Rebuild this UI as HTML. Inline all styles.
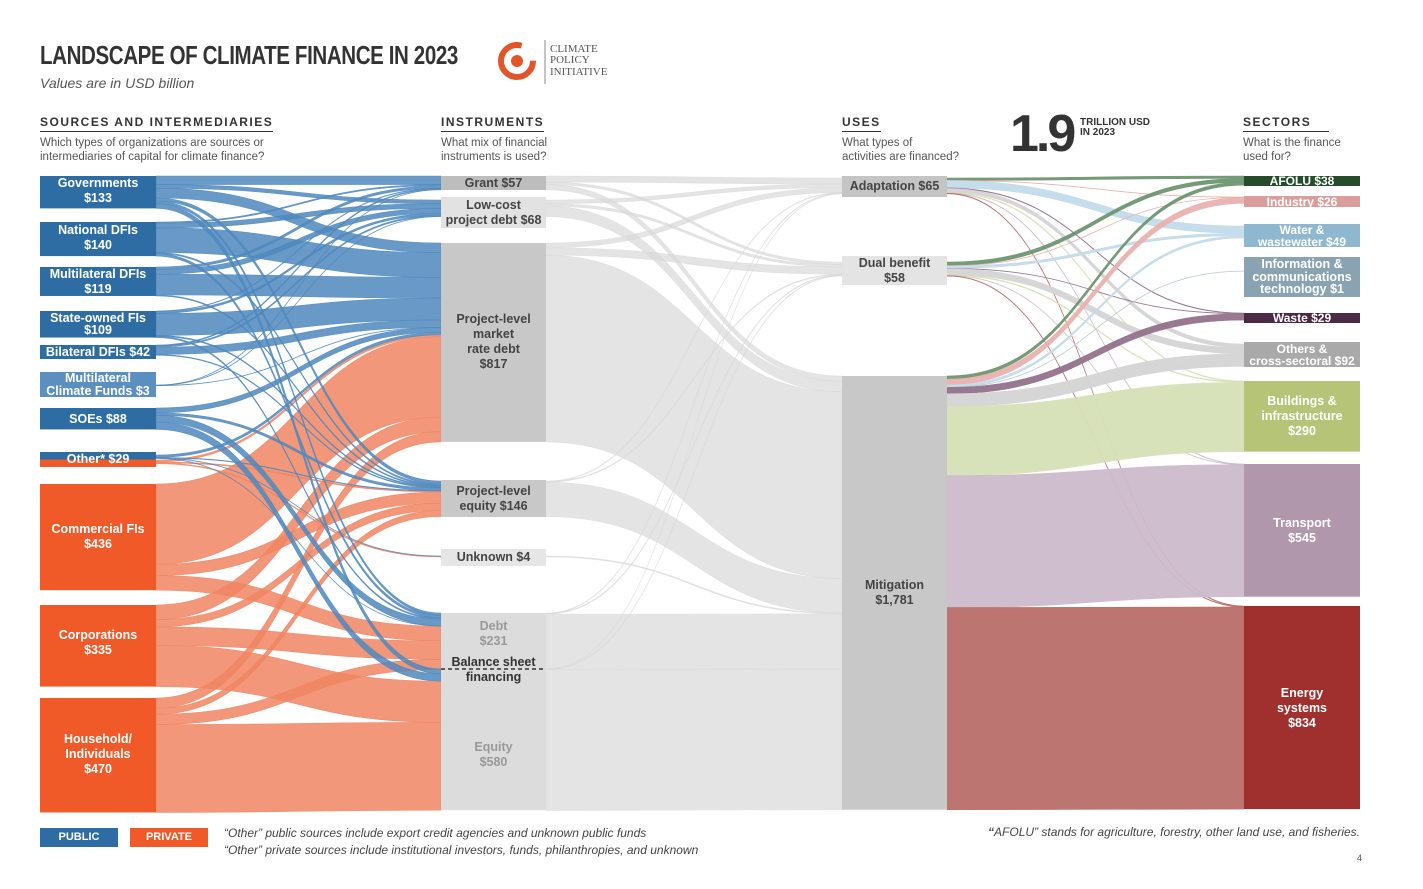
<!DOCTYPE html>
<html><head><meta charset="utf-8">
<style>
body{margin:0;background:#fff;font-family:"Liberation Sans",sans-serif;}
#wrap{position:relative;width:1423px;height:889px;overflow:hidden;}
.t{position:absolute;}
.hd{position:absolute;font-weight:bold;font-size:12px;letter-spacing:1.5px;color:#333;border-bottom:1.5px solid #333;padding-bottom:2px;}
.ds{position:absolute;font-size:11.5px;color:#555;line-height:14px;}
.lb{position:absolute;display:flex;align-items:center;justify-content:center;text-align:center;font-weight:bold;font-size:12.5px;line-height:15px;}
</style></head><body>
<div id="wrap">
<div class="t" style="left:40px;top:40px;font-size:26px;font-weight:bold;color:#333;letter-spacing:-0.5px;transform:scaleX(0.79);transform-origin:left;white-space:nowrap;">LANDSCAPE OF CLIMATE FINANCE IN 2023</div>
<div class="t" style="left:40px;top:75px;font-size:14px;font-style:italic;color:#555;">Values are in USD billion</div>
<svg class="t" style="left:495px;top:38px" width="125" height="50">
<circle cx="22" cy="23" r="16" fill="none" stroke="#e2542a" stroke-width="6" stroke-dasharray="80 20"/>
<circle cx="22" cy="23" r="6" fill="#e2542a"/>
<line x1="50" y1="2" x2="50" y2="46" stroke="#888"/>
<text x="55" y="14" font-family="Liberation Serif" font-size="11" fill="#555">CLIMATE</text>
<text x="55" y="25" font-family="Liberation Serif" font-size="11" fill="#555">POLICY</text>
<text x="55" y="37" font-family="Liberation Serif" font-size="11" fill="#555">INITIATIVE</text>
</svg>
<div class="hd" style="left:40px;top:115px;">SOURCES AND INTERMEDIARIES</div>
<div class="ds" style="left:40px;top:136px;">Which types of organizations are sources or<br>intermediaries of capital for climate finance?</div>
<div class="hd" style="left:441px;top:115px;">INSTRUMENTS</div>
<div class="ds" style="left:441px;top:136px;">What mix of financial<br>instruments is used?</div>
<div class="hd" style="left:842px;top:115px;">USES</div>
<div class="ds" style="left:842px;top:136px;">What types of<br>activities are financed?</div>
<div class="t" style="left:1010px;top:104px;font-size:52px;font-weight:bold;color:#333;letter-spacing:-3px;">1.9</div>
<div class="t" style="left:1080px;top:118px;font-size:10px;font-weight:bold;color:#333;line-height:10px;">TRILLION USD<br>IN 2023</div>
<div class="hd" style="left:1243px;top:115px;width:86px;">SECTORS</div>
<div class="ds" style="left:1243px;top:136px;">What is the finance<br>used for?</div>
<svg id="sk" class="t" style="left:0;top:0" width="1423" height="889"></svg>
<div id="labels"></div>
<div class="lb" style="left:40px;top:828px;width:78px;height:19px;background:#2e6da4;color:#fff;font-size:11px;">PUBLIC</div>
<div class="lb" style="left:130px;top:828px;width:78px;height:19px;background:#f05a28;color:#fff;font-size:11px;">PRIVATE</div>
<div class="t" style="left:224px;top:825px;font-size:12px;font-style:italic;color:#444;line-height:17px;">“Other” public sources include export credit agencies and unknown public funds<br>“Other” private sources include institutional investors, funds, philanthropies, and unknown</div>
<div class="t" style="right:63px;top:825px;font-size:12px;font-style:italic;color:#444;"><b>“</b>AFOLU” stands for agriculture, forestry, other land use, and fisheries.</div>
<div class="t" style="left:1357px;top:853px;font-size:9px;color:#555;">4</div>
</div>
<script>
const sources=["Governments","National DFIs","Multilateral DFIs","State-owned FIs","Bilateral DFIs","Multilateral Climate Funds","SOEs","Other public","Other private","Commercial FIs","Corporations","Household/Individuals"];
const sourcePublic=[1,1,1,1,1,1,1,1,0,0,0,0];
const instruments=["Grant","Low-cost project debt","Project-level market rate debt","Project-level equity","Unknown","Debt","Equity"];
const uses=["Adaptation","Dual benefit","Mitigation"];
const sectors=["AFOLU","Industry","Water & wastewater","ICT","Waste","Others & cross-sectoral","Buildings & infrastructure","Transport","Energy systems"];
// flows source -> instrument
const flowGov=[35,15,40,13,0,10,20];
const flowNatDFI=[5,19,101,5,0,10,0];
const flowMDFI=[10,20,85,4,0,0,0];
const flowSOFI=[2,8,90,4,0,5,0];
const flowBDFI=[4,5,30,3,0,0,0];
const flowMCF=[1,1,1,0,0,0,0];
const flowSOE=[0,0,20,10,0,28,30];
const flowOtherPub=[0,0,10,2,1,1,0];
const flowOtherPriv=[0,0,8,4,3,0,0];
const flowComm=[0,0,330,46,0,60,0];
const flowCorp=[0,0,60,30,0,76,169];
const flowHH=[0,0,42,25,0,42,361];
const srcInst=[flowGov,flowNatDFI,flowMDFI,flowSOFI,flowBDFI,flowMCF,flowSOE,flowOtherPub,flowOtherPriv,flowComm,flowCorp,flowHH];
// flows instrument -> use
const instUse=[[25,10,22],[15,10,43],[20,30,767],[2,3,141],[0,0,4],[2,3,226],[1,2,578]];
// flows use -> sector
const useAdapt=[10,1,30,0,2,15,3,2,2];
const useDual=[15,1,10,0,1,25,3,1,2];
const useMit=[13,24,9,1,26,52,284,542,830];
const useSec=[useAdapt,useDual,useMit];

// layout (not data)
const K=0.2435;
const srcTop=[176,222,267,311,345,385,408,455,460,484,605,698];
const instTop=[176,200,243,481,556,613,669];
const useTop=[178,262,376];
const secTop=[176,197,226,271,313,344,381,464,606];
const secColor=["#264d2a","#d99e9c","#8fb7cf","#8aa3b3","#4b2a45","#a9a9a9","#b5c477","#b097ab","#a0302d"];
const secLink=["#6f9672","#e9b1ae","#c3dbea","#b9c8d2","#93728c","#d4d4d4","#d6e0b6","#cbbacb","#b86e68"];
const X={s0:40,s1:156,i0:441,i1:546,u0:842,u1:947,c0:1244,c1:1360};

const svg=document.getElementById('sk');
const NS="http://www.w3.org/2000/svg";
function sum(a){return a.reduce((p,c)=>p+c,0);}
function link(x0,y0,x1,y1,h,color,op,name){
  const xm=(x0+x1)/2;
  const d=`M${x0},${y0} C${xm},${y0} ${xm},${y1} ${x1},${y1} L${x1},${y1+h} C${xm},${y1+h} ${xm},${y0+h} ${x0},${y0+h} Z`;
  const p=document.createElementNS(NS,'path');
  p.setAttribute('d',d);p.setAttribute('fill',color);p.setAttribute('fill-opacity',op);
  p.setAttribute('stroke',color);p.setAttribute('stroke-opacity',op);p.setAttribute('stroke-width','0.6');
  
  
  svg.appendChild(p);
}
function rect(x,y,w,h,fill,name){
  const r=document.createElementNS(NS,'rect');
  r.setAttribute('x',x);r.setAttribute('y',y);r.setAttribute('width',w);r.setAttribute('height',Math.max(h,0.8));r.setAttribute('fill',fill);
  
  
  svg.appendChild(r);
}
const srcVal=srcInst.map(sum);
const instVal=instruments.map((_,j)=>srcInst.reduce((p,r)=>p+r[j],0));
const useVal=uses.map((_,j)=>instUse.reduce((p,r)=>p+r[j],0));
const secVal=sectors.map((_,j)=>useSec.reduce((p,r)=>p+r[j],0));

{const inStart=[];let cur=useTop.slice();
 for(let i=0;i<instruments.length;i++){inStart[i]=[];for(let u=0;u<uses.length;u++){inStart[i][u]=cur[u];cur[u]+=instUse[i][u]*K;}}
 for(let i=0;i<instruments.length;i++){let o=instTop[i];
  for(let u=0;u<uses.length;u++){const h=instUse[i][u]*K;if(h>0)link(X.i1,o,X.u0,inStart[i][u],h,"#d9d9d9",0.7,'link-instrument-use');o+=h;}}}
{const cur=secTop.slice();const inStart=[];
 for(let u=0;u<uses.length;u++){inStart[u]=[];for(let s=0;s<sectors.length;s++){inStart[u][s]=cur[s];cur[s]+=useSec[u][s]*K;}}
 for(let u=0;u<uses.length;u++){let o=useTop[u];
  for(let s=0;s<sectors.length;s++){const h=useSec[u][s]*K;if(h>0)link(X.u1,o,X.c0,inStart[u][s],h,secLink[s],0.95,'link-use-sector');o+=h;}}}
{const cur=instTop.slice();const inStart=[];
 for(let s=0;s<sources.length;s++){inStart[s]=[];for(let i=0;i<instruments.length;i++){inStart[s][i]=cur[i];cur[i]+=srcInst[s][i]*K;}}
 const order=[8,9,10,11,0,1,2,3,4,5,6,7];
 for(const s of order){let o=srcTop[s];
  for(let i=0;i<instruments.length;i++){const h=srcInst[s][i]*K;
   if(h>0)link(X.s1,o,X.i0,inStart[s][i],h,sourcePublic[s]?"#4f88bd":"#f08563",0.85,'link-source-instrument');o+=h;}}}
sources.forEach((n,i)=>rect(X.s0,srcTop[i],X.s1-X.s0,srcVal[i]*K,sourcePublic[i]?(i==5?"#5b8fc0":"#2e6da4"):"#f05a28",'source-node'));
instruments.forEach((n,i)=>rect(X.i0,instTop[i],X.i1-X.i0,instVal[i]*K,i>=5?"#dcdcdc":"#c8c8c8",'instrument-node'));
uses.forEach((n,i)=>rect(X.u0,useTop[i],X.u1-X.u0,useVal[i]*K,"#c8c8c8",'use-node'));
sectors.forEach((n,i)=>rect(X.c0,secTop[i],X.c1-X.c0,secVal[i]*K,secColor[i],'sector-node'));
const dl=document.createElementNS(NS,'line');
dl.setAttribute('x1',X.i0);dl.setAttribute('x2',X.i1);dl.setAttribute('y1',instTop[6]);dl.setAttribute('y2',instTop[6]);
dl.setAttribute('stroke','#333');dl.setAttribute('stroke-width','1.5');dl.setAttribute('stroke-dasharray','4 3');


svg.appendChild(dl);

const L=document.getElementById('labels');
function lab(x,y,w,h,html,bg,color,name,fs){
  const d=document.createElement('div');d.className='lb';
  d.style.cssText=`left:${x}px;top:${y}px;width:${w}px;height:${h}px;background:${bg};color:${color};`+(fs?`font-size:${fs}px;line-height:${fs}px;`:'');
  d.innerHTML=html;
  
  
  L.appendChild(d);
}
const W=116,WI=105;
lab(40,176,W,30,"Governments<br>$133","transparent","#fff","label-governments");
lab(40,222,W,31,"National DFIs<br>$140","transparent","#fff","label-national-dfis");
lab(40,267,W,29,"Multilateral DFIs<br>$119","transparent","#fff","label-multilateral-dfis");
lab(40,311,W,26,"State-owned FIs<br>$109","transparent","#fff","label-state-owned-fis",12.5);
lab(40,345,W,14,"Bilateral DFIs $42","#2e6da4","#fff","label-bilateral-dfis");
lab(40,372,W,25,"Multilateral<br>Climate Funds $3","#5b8fc0","#fff","label-multilateral-climate-funds",12.5);
lab(40,408,W,22,"SOEs $88","transparent","#fff","label-soes");
lab(40,452,W,15,"Other* $29","linear-gradient(#2e6da4 0 50%,#f05a28 50% 100%)","#fff","label-other");
lab(40,484,W,106,"Commercial FIs<br>$436","transparent","#fff","label-commercial-fis");
lab(40,605,W,75,"Corporations<br>$335","transparent","#fff","label-corporations");
lab(40,698,W,112,"Household/<br>Individuals<br>$470","transparent","#fff","label-households");
lab(441,176,WI,14,"Grant $57","#bdbdbd","#444","label-grant");
lab(441,197,WI,31,"Low-cost<br>project debt $68","#e2e2e2","#444","label-low-cost-debt");
lab(441,243,WI,198,"Project-level<br>market<br>rate debt<br>$817","transparent","#444","label-project-debt");
lab(441,480,WI,37,"Project-level<br>equity $146","#c8c8c8","#444","label-project-equity");
lab(441,549,WI,17,"Unknown $4","#e6e6e6","#444","label-unknown");
lab(441,613,WI,42,"Debt<br>$231","transparent","#999","label-debt");
lab(441,655,WI,30,"Balance sheet<br>financing","transparent","#333","label-balance-sheet");
lab(441,700,WI,110,"Equity<br>$580","transparent","#999","label-equity");
lab(842,176,WI,21,"Adaptation $65","#c4c4c4","#444","label-adaptation");
lab(842,256,WI,29,"Dual benefit<br>$58","#e4e4e4","#444","label-dual-benefit");
lab(842,376,WI,434,"Mitigation<br>$1,781","transparent","#444","label-mitigation");
lab(1244,176,W,10,"AFOLU $38","#264d2a","#fff","label-afolu",12);
lab(1244,196,W,11,"Industry $26","#d99e9c","#fff","label-industry",12);
lab(1244,224,W,23,"Water &amp;<br>wastewater $49","#8fb7cf","#fff","label-water",12);
lab(1244,257,W,40,"Information &amp;<br>communications<br>technology $1","#8aa3b3","#fff","label-ict",12.5);
lab(1244,313,W,10,"Waste $29","#4b2a45","#fff","label-waste",12);
lab(1244,342,W,25,"Others &amp;<br>cross-sectoral $92","#a9a9a9","#fff","label-others",12);
lab(1244,381,W,71,"Buildings &amp;<br>infrastructure<br>$290","transparent","#fff","label-buildings");
lab(1244,464,W,133,"Transport<br>$545","transparent","#fff","label-transport");
lab(1244,606,W,204,"Energy<br>systems<br>$834","transparent","#fff","label-energy");
</script>
</body></html>
